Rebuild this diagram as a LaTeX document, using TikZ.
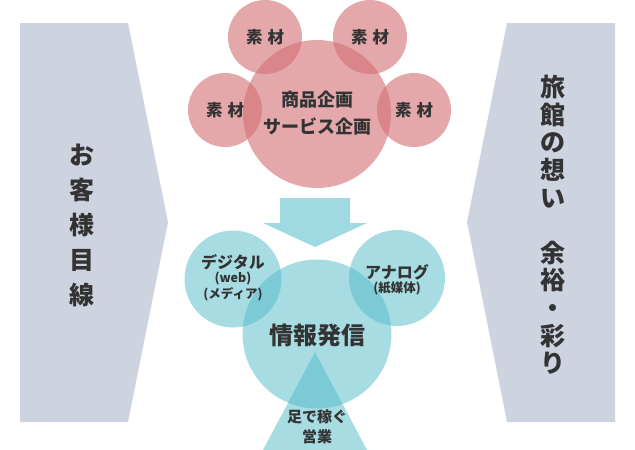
\documentclass[tikz,border=0pt]{standalone}
\usepackage{fontspec}
\setmainfont{Noto Sans CJK JP}
\usepackage{tikz}
\usetikzlibrary{positioning,shapes.geometric}

\definecolor{panelgray}{RGB}{205,211,223}
\definecolor{rosebase}{RGB}{210,110,115}
\definecolor{tealbase}{RGB}{80,185,200}
\definecolor{inkgray}{RGB}{51,51,51}

\newcommand{\sozai}{素\hspace{5pt}材}

\begin{document}
\begin{tikzpicture}[x=1pt,y=-1pt,
    panel/.style={fill=panelgray,draw=none},
    rosecirc/.style={circle,fill=rosebase,fill opacity=0.6,text opacity=1,
                     draw=none,inner sep=0pt,text=inkgray,font=\bfseries\fontsize{16.5}{18}\selectfont},
    tealcirc/.style={circle,fill=tealbase,fill opacity=0.5,text opacity=1,
                     draw=none,inner sep=0pt,text=inkgray},
    lbl/.style={text=inkgray,align=center,inner sep=0pt}]

  \useasboundingbox (0,0) rectangle (635,450);

  % side panels
  \fill[panel] (20,23) -- (128,23) -- (168,222) -- (128,422) -- (20,422) -- cycle;
  \fill[panel] (507,23) -- (615,23) -- (615,422) -- (507,422) -- (467,222) -- cycle;

  \node[lbl,font=\bfseries\fontsize{25}{35}\selectfont] (guest) at (82,225)
    {お\\客\\様\\目\\線};
  \node[lbl,font=\bfseries\fontsize{25}{27.6}\selectfont] (ryokan) at (553,225)
    {旅\\館\\の\\想\\い\\　\\余\\裕\\・\\彩\\り};

  % planning circles
  \node[rosecirc,minimum size=74pt] (mat1) at (265,37) {\sozai};
  \node[rosecirc,minimum size=74pt] (mat2) at (370,37) {\sozai};
  \node[rosecirc,minimum size=74pt] (mat3) at (225,110) {\sozai};
  \node[rosecirc,minimum size=74pt] (mat4) at (414,110) {\sozai};
  \node[rosecirc,minimum size=148pt] (plan) at (317,114) {};
  \node[lbl,font=\bfseries\fontsize{18}{27}\selectfont] (plantext) at (317,113)
    {商品企画\\サービス企画};

  % arrow down
  \fill[tealbase,opacity=0.55] (280,198) -- (350,198) -- (350,223) -- (367,223)
    -- (315,247) -- (263,223) -- (280,223) -- cycle;

  % information circles
  \node[tealcirc,minimum size=97pt] (digital) at (233,279) {};
  \node[tealcirc,minimum size=96pt] (analog) at (397,278) {};
  \node[tealcirc,minimum size=149pt] (info) at (317,334) {};
  \fill[tealbase,opacity=0.5] (315,352) -- (367,450) -- (263,450) -- cycle;

  \node[lbl,font=\bfseries\fontsize{16}{17}\selectfont] (digitext) at (233,262) {デジタル};
  \node[lbl,font=\bfseries\fontsize{12.5}{16}\selectfont,below=2pt of digitext] (webtext)
    {(web)\\(メディア)};
  \node[lbl,font=\bfseries\fontsize{16}{17}\selectfont] (anatext) at (397,272) {アナログ};
  \node[lbl,font=\bfseries\fontsize{12.5}{16}\selectfont,below=2pt of anatext] (papertext)
    {(紙媒体)};
  \node[lbl,font=\bfseries\fontsize{24}{26}\selectfont] (infotext) at (317,335) {情報発信};
  \node[lbl,font=\bfseries\fontsize{15}{20}\selectfont] (saletext) at (317,427)
    {足で稼ぐ\\営業};

\end{tikzpicture}
\end{document}
